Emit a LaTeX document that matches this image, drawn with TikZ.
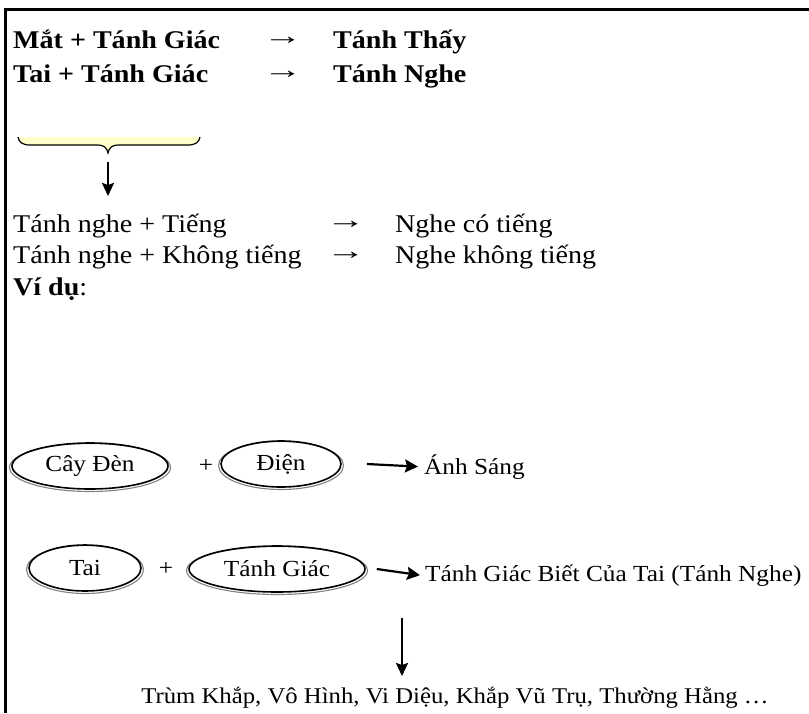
\documentclass[tikz,border=0pt]{standalone}
\usepackage{fontspec}
\setmainfont{Liberation Serif}[FakeStretch=1.1]
\usetikzlibrary{arrows.meta,shapes.geometric,calc}

\definecolor{bracefill}{RGB}{255,255,204}
\definecolor{ovalshade}{RGB}{130,130,130}

% oval node with a soft grey second rim: name, x, y, x radius, y radius, text
\newcommand{\ovalnode}[6]{%
  \draw[ovalrim] (#2,#3+1.5) ellipse [x radius=#4+2.5, y radius=#5+1];
  \node[oval, minimum width={2*#4}, minimum height={2*#5}] (#1) at (#2,#3) {#6};}
% a wide text arrow
\newcommand{\widearrow}{\raisebox{3.5pt}{\scalebox{1.4}[1.0]{→}}}

\begin{document}
\begin{tikzpicture}[x=1pt,y=-1pt,
  txt/.style={anchor=base west, inner sep=0pt, font=\fontsize{25.5}{30}\selectfont},
  hdr/.style={anchor=base west, inner sep=0pt, font=\fontsize{25.5}{30}\selectfont\bfseries},
  smalltxt/.style={inner sep=0pt, font=\fontsize{23}{27}\selectfont},
  restxt/.style={inner sep=0pt, font=\fontsize{22.5}{27}\selectfont},
  oval/.style={ellipse, draw=black, line width=1.6pt, inner sep=0pt, smalltxt},
  ovalrim/.style={draw=ovalshade, line width=1.1pt},
  harrow/.style={line width=2.2pt, -{Stealth[length=13pt,width=13pt,inset=2pt]}},
  varrow/.style={line width=2.2pt, -{Stealth[length=13pt,width=12pt,inset=2pt]}},
  frame/.style={line width=3pt},
  bracepath/.style={draw=black, line width=1.2pt, fill=bracefill},
]
\useasboundingbox (0,0) rectangle (809,713);
\fill[white] (0,0) rectangle (809,713);

% frame on the top and left
\draw[frame] (3.5,9) -- (809,9);
\draw[frame] (5,9) -- (5,713);

% header lines
\node[hdr] (h1a) at (13,48) {Mắt + Tánh Giác};
\node[txt] (h1b) at (263,48) {\widearrow};
\node[hdr] (h1c) at (333,48) {Tánh Thấy};
\node[hdr] (h2a) at (13,82) {Tai + Tánh Giác};
\node[txt] (h2b) at (263,82) {\widearrow};
\node[hdr] (h2c) at (333,82) {Tánh Nghe};

% brace with arrow below it
\draw[bracepath] (18,137) .. controls (19,142) and (22,145) .. (30,145) -- (98,145)
  .. controls (104,145) and (107,148) .. (108,153)
  .. controls (109,148) and (112,145) .. (118,145) -- (188,145)
  .. controls (196,145) and (199,142) .. (200,137);
\coordinate (bt) at (108,162);
\coordinate (bb) at (108,196);
\draw[varrow] (bt) -- (bb);

% hearing lines
\node[txt] (l3a) at (13,232) {Tánh nghe + Tiếng};
\node[txt] (l3b) at (326,232) {\widearrow};
\node[txt] (l3c) at (395,232) {Nghe có tiếng};
\node[txt] (l4a) at (13,263) {Tánh nghe + Không tiếng};
\node[txt] (l4b) at (326,263) {\widearrow};
\node[txt] (l4c) at (395,263) {Nghe không tiếng};
\node[txt] (vd) at (13,295) {\textbf{Ví dụ}:};

% first example row
\ovalnode{lamp}{90}{466}{78}{23}{Cây Đèn}
\node[smalltxt] (p1) at (206,466) {+};
\ovalnode{power}{281}{464}{60}{23}{Điện}
\node[smalltxt, anchor=base west] (light) at (424,474) {Ánh Sáng};
\draw[harrow] ([xshift=25pt]power.east) -- ([xshift=-6pt]light.west);

% second example row
\ovalnode{ear}{85}{568}{56}{23}{Tai}
\node[smalltxt] (p2) at (166,569) {+};
\ovalnode{aware}{277}{569}{88}{23}{Tánh Giác}
\node[smalltxt, anchor=base west] (hear) at (425,581) {Tánh Giác Biết Của Tai (Tánh Nghe)};
\draw[harrow] ([xshift=11pt]aware.east) -- ([xshift=-5pt]hear.west);

% result
\node[restxt, anchor=base] (res) at (455,703) {Trùm Khắp, Vô Hình, Vi Diệu, Khắp Vũ Trụ, Thường Hằng …};
\coordinate (vt) at (402,618);
\draw[varrow] (vt) -- (vt |- 0,676);
\end{tikzpicture}
\end{document}
